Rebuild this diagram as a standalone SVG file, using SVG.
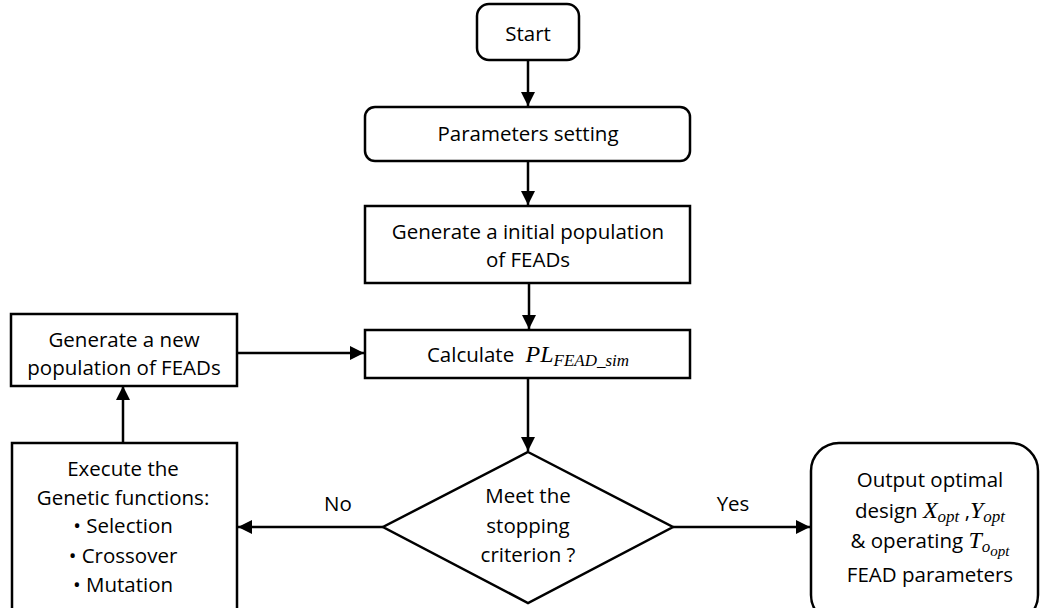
<svg xmlns="http://www.w3.org/2000/svg" width="1040" height="608" viewBox="0 0 1040 608">
  <defs>
    <marker id="arrow" viewBox="0 0 14 14" refX="14" refY="7" markerWidth="14" markerHeight="14" markerUnits="userSpaceOnUse" orient="auto">
      <path d="M0,0 L14,7 L0,14 Z" fill="#000"/>
    </marker>
    <style>
      .box { fill: #fff; stroke: #000; stroke-width: 2.5; }
      .edge { fill: none; stroke: #000; stroke-width: 2.5; marker-end: url(#arrow); }
      text { font-family: "Open Sans", "Liberation Sans", sans-serif; font-size: 20.5px; fill: #000; text-anchor: middle; }
      .m { font-family: "Liberation Serif", "DejaVu Serif", serif; font-style: italic; font-size: 24px; }
      .s { font-family: "Liberation Serif", "DejaVu Serif", serif; font-style: italic; font-size: 17px; }
      .ss { font-family: "Liberation Serif", "DejaVu Serif", serif; font-style: italic; font-size: 15px; }
    </style>
  </defs>

  <g id="connectors">
    <line class="edge" x1="528" y1="60" x2="528" y2="106"/>
    <line class="edge" x1="528" y1="161" x2="528" y2="205"/>
    <line class="edge" x1="529" y1="283" x2="529" y2="329"/>
    <line class="edge" x1="528" y1="378" x2="528" y2="451"/>
    <line class="edge" x1="383" y1="527" x2="238" y2="527"/>
    <line class="edge" x1="673" y1="527" x2="810" y2="527"/>
    <line class="edge" x1="123" y1="443" x2="123" y2="386"/>
    <line class="edge" x1="237" y1="353" x2="364" y2="353"/>
    <text x="338" y="511">No</text>
    <text x="733" y="511">Yes</text>
  </g>

  <g id="start">
    <rect class="box" x="477" y="4" width="102" height="56" rx="12"/>
    <text x="528" y="41">Start</text>
  </g>

  <g id="parameters">
    <rect class="box" x="365" y="107" width="325" height="54" rx="10"/>
    <text x="528" y="141">Parameters setting</text>
  </g>

  <g id="initial-population">
    <rect class="box" x="365" y="206" width="325" height="77"/>
    <text x="528" y="239">Generate a initial population</text>
    <text x="528" y="267">of FEADs</text>
  </g>

  <g id="calculate">
    <rect class="box" x="365" y="330" width="325" height="48"/>
    <text x="528" y="362">Calculate <tspan class="m" dx="6">PL</tspan><tspan class="s" dy="4">FEAD_sim</tspan></text>
  </g>

  <g id="new-population">
    <rect class="box" x="11" y="314" width="226" height="72"/>
    <text x="124" y="347">Generate a new</text>
    <text x="124" y="375">population of FEADs</text>
  </g>

  <g id="stopping">
    <polygon class="box" points="528,452 673,527 528,603 383,527"/>
    <text x="528" y="503">Meet the</text>
    <text x="528" y="533">stopping</text>
    <text x="528" y="562">criterion ?</text>
  </g>

  <g id="genetic">
    <rect class="box" x="12" y="443" width="225" height="180"/>
    <text x="123" y="476">Execute the</text>
    <text x="123" y="505">Genetic functions:</text>
    <text x="123" y="533">• Selection</text>
    <text x="123" y="563">• Crossover</text>
    <text x="123" y="592">• Mutation</text>
  </g>

  <g id="output">
    <rect class="box" x="811" y="443" width="227" height="180" rx="28"/>
    <text x="930" y="487">Output optimal</text>
    <text x="930" y="518">design <tspan class="m">X</tspan><tspan class="s" dy="4">opt</tspan><tspan dy="-4"> ,</tspan><tspan class="m">Y</tspan><tspan class="s" dy="4">opt</tspan></text>
    <text x="930" y="548">&amp; operating <tspan class="m">T</tspan><tspan class="s" dy="4">o</tspan><tspan class="ss" dy="4">opt</tspan></text>
    <text x="930" y="582">FEAD parameters</text>
  </g>
</svg>
